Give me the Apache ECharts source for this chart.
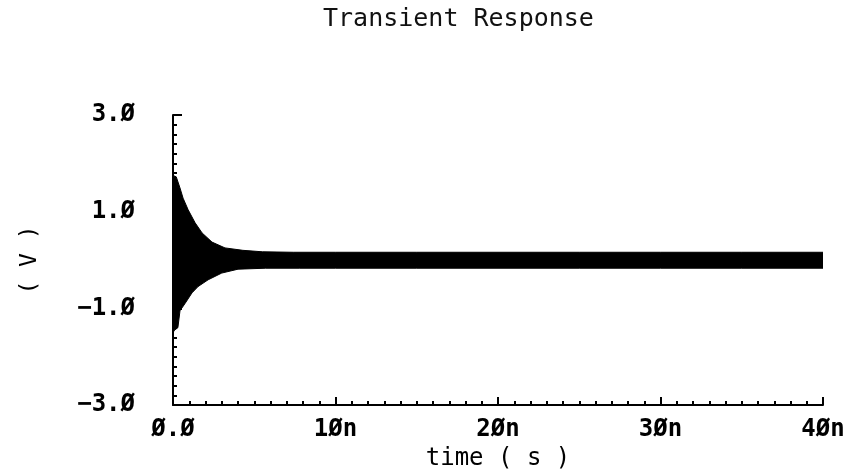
<!DOCTYPE html>
<html>
<head>
<meta charset="utf-8">
<script src="https://cdn.jsdelivr.net/npm/echarts@6/dist/echarts.min.js"></script>
<style>
html,body{margin:0;padding:0;background:#fff;}
#chart{width:857px;height:470px;}
</style>
</head>
<body>
<div id="chart"></div>
<script>
// ---- data (time in ns, voltage in V) ----
const upperTime = [0, 0.2, 0.43, 0.62, 0.93, 1.36, 1.79, 2.4, 3.2, 4.3, 5.5, 7.4, 10, 15, 20, 25, 30, 35, 40];
const upperV    = [1.75, 1.72, 1.49, 1.28, 1.04, 0.77, 0.56, 0.37, 0.25, 0.20, 0.17, 0.16, 0.16, 0.16, 0.16, 0.16, 0.16, 0.16, 0.16];
const lowerTime = [0, 0.1, 0.3, 0.43, 0.74, 1.17, 1.54, 2.16, 3.0, 4.0, 5.7, 7.8, 10, 15, 20, 25, 30, 35, 40];
const lowerV    = [-1.5, -1.45, -1.4, -1.05, -0.9, -0.68, -0.55, -0.41, -0.27, -0.19, -0.17, -0.17, -0.17, -0.17, -0.17, -0.17, -0.17, -0.17, -0.17];

const xTickValues = [0, 10, 20, 30, 40];
const xTickLabels = ['Ø.Ø', '1Øn', '2Øn', '3Øn', '4Øn'];
const yTickValues = [-3, -1, 1, 3];
const yTickLabels = ['−3.Ø', '−1.Ø', '1.Ø', '3.Ø'];

const titleText = 'Transient Response';
const xName = 'time ( s )';
const yName = '( V )';

function lookup(vals, labels, v) {
  for (let i = 0; i < vals.length; i++) if (Math.abs(vals[i] - v) < 1e-9) return labels[i];
  return '';
}

const upperData = upperTime.map((t, i) => [t, upperV[i]]);
const lowerData = lowerTime.map((t, i) => [t, lowerV[i]]);

const mono = 'DejaVu Sans Mono';
const chart = echarts.init(document.getElementById('chart'), null, {renderer: 'canvas'});
chart.setOption({
  backgroundColor: '#ffffff',
  animation: false,
  title: {
    text: titleText,
    left: 318,
    top: 2,
    textStyle: {fontFamily: mono, fontSize: 25, fontWeight: 'normal', color: '#111'}
  },
  grid: {left: 173, right: 34, top: 115, bottom: 65, containLabel: false, outerBoundsMode: 'none'},
  xAxis: {
    type: 'value',
    min: 0, max: 40, interval: 10,
    name: xName,
    nameLocation: 'middle',
    nameGap: 35,
    nameTextStyle: {fontFamily: mono, fontSize: 24, color: '#000'},
    splitLine: {show: false},
    axisLine: {show: true, onZero: false, lineStyle: {color: '#000', width: 2}},
    axisTick: {show: true, inside: true, length: 8, lineStyle: {color: '#000', width: 2}},
    minorTick: {show: true, splitNumber: 10, length: 4, lineStyle: {color: '#000', width: 2}},
    axisLabel: {
      fontFamily: mono, fontSize: 24, fontWeight: 'bold', color: '#000', margin: 13,
      formatter: v => lookup(xTickValues, xTickLabels, v)
    }
  },
  yAxis: {
    type: 'value',
    min: -3, max: 3, interval: 2,
    name: yName,
    nameLocation: 'middle',
    nameGap: 131,
    nameTextStyle: {fontFamily: mono, fontSize: 23, color: '#000'},
    splitLine: {show: false},
    axisLine: {show: true, onZero: false, lineStyle: {color: '#000', width: 2}},
    axisTick: {show: true, inside: true, length: 9, lineStyle: {color: '#000', width: 2}},
    minorTick: {show: true, splitNumber: 10, length: 4, lineStyle: {color: '#000', width: 2}},
    axisLabel: {
      fontFamily: mono, fontSize: 24, fontWeight: 'bold', color: '#000', margin: 38,
      padding: [0, 0, 8, 0],
      formatter: v => lookup(yTickValues, yTickLabels, v)
    }
  },
  series: [
    {
      type: 'line', data: upperData, showSymbol: false, silent: true,
      lineStyle: {color: '#000', width: 1},
      areaStyle: {color: '#000', opacity: 1}
    },
    {
      type: 'line', data: lowerData, showSymbol: false, silent: true,
      lineStyle: {color: '#000', width: 1},
      areaStyle: {color: '#000', opacity: 1}
    }
  ]
});
</script>
</body>
</html>
